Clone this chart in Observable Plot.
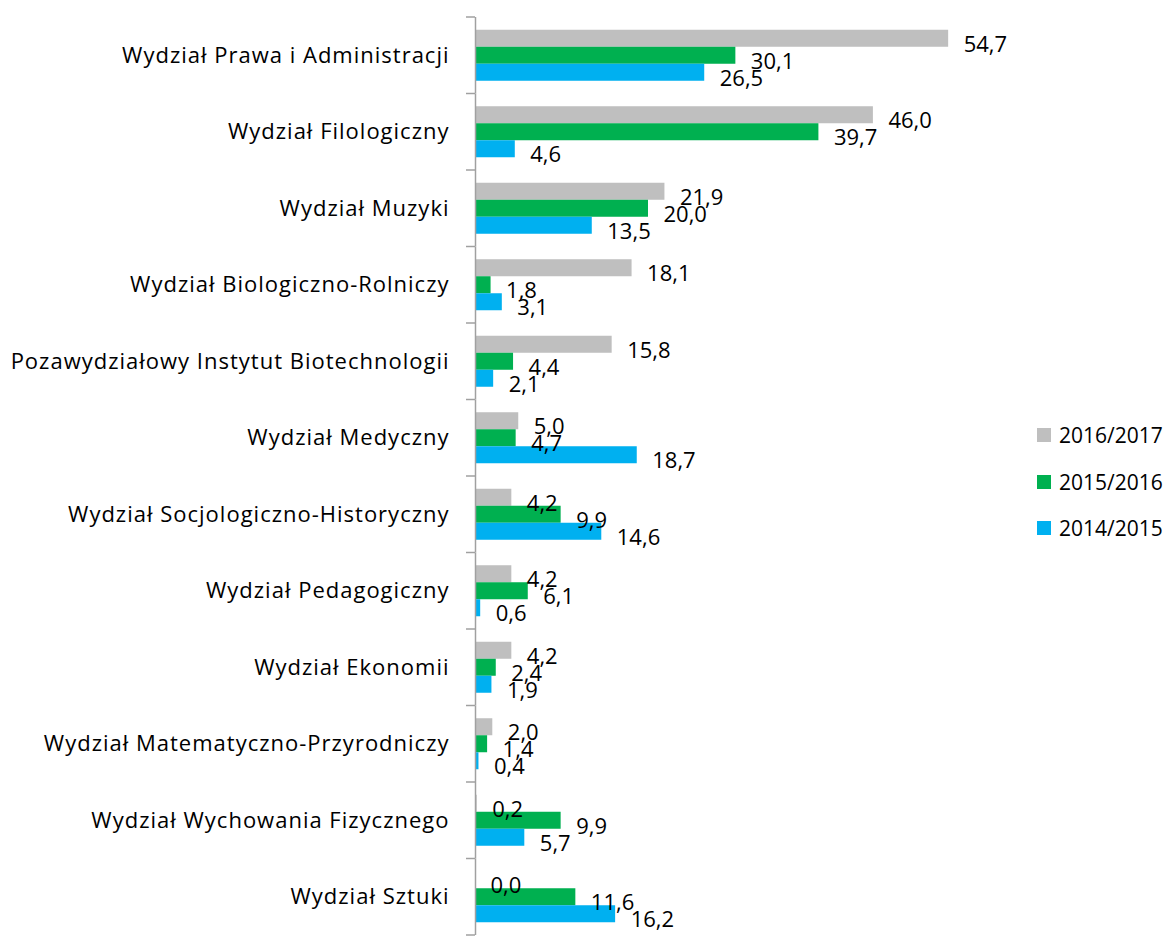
<!DOCTYPE html>
<html>
<head>
<meta charset="utf-8">
<script src="https://cdn.jsdelivr.net/npm/d3@7"></script>
<script src="https://cdn.jsdelivr.net/npm/@observablehq/plot@0.6"></script>
<style>
  body { margin: 0; background: #fff; }
  #wrap { position: relative; width: 1172px; height: 938px; font-family: "Open Sans", sans-serif; }
  #legend { position: absolute; left: 1037px; top: 412px; font-size: 21px; color: #000; }
  #legend .row { display: flex; align-items: center; height: 46.5px; }
  #legend .sw { width: 14px; height: 14px; margin-right: 8px; }
</style>
</head>
<body>
<div id="wrap"></div>
<script>
const categories = [
  "Wydział Prawa i Administracji",
  "Wydział Filologiczny",
  "Wydział Muzyki",
  "Wydział Biologiczno-Rolniczy",
  "Pozawydziałowy Instytut Biotechnologii",
  "Wydział Medyczny",
  "Wydział Socjologiczno-Historyczny",
  "Wydział Pedagogiczny",
  "Wydział Ekonomii",
  "Wydział Matematyczno-Przyrodniczy",
  "Wydział Wychowania Fizycznego",
  "Wydział Sztuki"
];
const seriesNames = ["2016/2017", "2015/2016", "2014/2015"];
const seriesColors = ["#BFBFBF", "#00B050", "#00B0F0"];
const values2016_2017 = [54.7, 46.0, 21.9, 18.1, 15.8, 5.0, 4.2, 4.2, 4.2, 2.0, 0.2, 0.0];
const values2015_2016 = [30.1, 39.7, 20.0, 1.8, 4.4, 4.7, 9.9, 6.1, 2.4, 1.4, 9.9, 11.6];
const values2014_2015 = [26.5, 4.6, 13.5, 3.1, 2.1, 18.7, 14.6, 0.6, 1.9, 0.4, 5.7, 16.2];

const seriesValues = [values2016_2017, values2015_2016, values2014_2015];
const rows = [];
categories.forEach((c, i) => {
  seriesNames.forEach((s, j) => rows.push({category: c, series: s, value: seriesValues[j][i]}));
});
const fmt = v => v.toFixed(1).replace(".", ",");

const chart = Plot.plot({
  width: 1172,
  height: 938,
  marginLeft: 475,
  marginRight: 178,
  marginTop: 17,
  marginBottom: 3,
  style: {fontFamily: "'Open Sans', sans-serif", fontSize: "22px", color: "#000", background: "#fff"},
  x: {domain: [0, 60], axis: null},
  y: {domain: seriesNames, paddingInner: 0, paddingOuter: 0.75, round: false, axis: null},
  fy: {domain: categories, paddingInner: 0, paddingOuter: 0, round: false},
  color: {domain: seriesNames, range: seriesColors},
  marks: [
    Plot.axisFy({anchor: "left", tickSize: 0, tickPadding: 26, fontSize: 22, label: null}),
    Plot.barX(rows, {fy: "category", y: "series", x: "value", fill: "series"}),
    Plot.ruleX([0], {stroke: "#A0A0A0", strokeWidth: 1.5}),
    Plot.text(rows, {fy: "category", y: "series", x: "value", text: d => fmt(d.value),
      textAnchor: "start", dx: 15, dy: 6, fontSize: 22, fill: "#000"})
  ]
});

// widen category labels slightly
d3.select(chart).selectAll('g[aria-label="fy-axis tick label"] text').style("letter-spacing", "1px");

// category boundary tick marks on the value axis
const fyS = chart.scale("fy");
const xS = chart.scale("x");
const x0 = xS.apply(0);
const bounds = categories.map(c => fyS.apply(c));
bounds.push(fyS.apply(categories[categories.length - 1]) + fyS.bandwidth);
d3.select(chart).append("g")
  .selectAll("line").data(bounds).join("line")
  .attr("x1", x0 - 9).attr("x2", x0)
  .attr("y1", d => d).attr("y2", d => d)
  .attr("stroke", "#A0A0A0").attr("stroke-width", 1.5);

const wrap = document.getElementById("wrap");
wrap.appendChild(chart);
const legend = document.createElement("div");
legend.id = "legend";
seriesNames.forEach((s, i) => {
  const r = document.createElement("div");
  r.className = "row";
  const sw = document.createElement("span");
  sw.className = "sw";
  sw.style.background = seriesColors[i];
  const t = document.createElement("span");
  t.textContent = s;
  r.appendChild(sw); r.appendChild(t);
  legend.appendChild(r);
});
wrap.appendChild(legend);
</script>
</body>
</html>
